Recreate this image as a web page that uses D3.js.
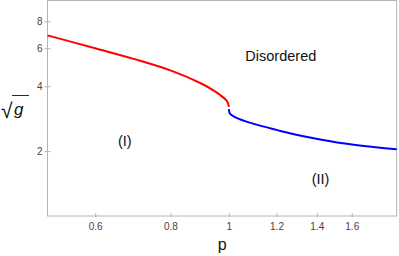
<!DOCTYPE html>
<html>
<head>
<meta charset="utf-8">
<script src="https://cdn.jsdelivr.net/npm/d3@7"></script>
<style>
  body { margin: 0; background: #fff; }
  svg { display: block; font-family: "Liberation Sans", Arial, sans-serif; }
</style>
</head>
<body>
<div class="canvas"></div>
<script>
// phase boundary, ordered phase branch (red)
const redP = [0.5, 0.6, 0.7, 0.8, 0.9, 0.95, 0.97, 0.99, 0.997, 1.0];
const redG = [6.89, 6.0, 5.33, 4.74, 4.12, 3.78, 3.62, 3.45, 3.33, 3.21];

// boundary between (II) and disordered (blue)
const blueP = [1.0, 1.004, 1.017, 1.037, 1.07, 1.119, 1.2, 1.272, 1.39, 1.547, 1.755, 1.9];
const blueG = [3.13, 2.99, 2.91, 2.83, 2.74, 2.64, 2.51, 2.41, 2.29, 2.175, 2.085, 2.04];

const xTicks = [0.6, 0.8, 1, 1.2, 1.4, 1.6];
const yTicks = [2, 4, 6, 8];

const labels = [
  { text: 'Disordered', p: 1.22, g: 5.22 },
  { text: '(I)', p: 0.672, g: 2.11 },
  { text: '(II)', p: 1.42, g: 1.41 }
];

const dims = { width: 399, height: 256 };
const margin = { left: 47.5, top: 0.5, right: 2.3, bottom: 40 };

const svg = d3.select('.canvas').append('svg')
  .attr('width', dims.width)
  .attr('height', dims.height);

const x = d3.scaleLog()
  .domain([0.5, 1.9])
  .range([margin.left, dims.width - margin.right]);

const y = d3.scaleLog()
  .domain([1, 10])
  .range([dims.height - margin.bottom, margin.top]);

const frameCol = '#b4b4b4';

// frame
svg.append('rect')
  .attr('x', x.range()[0])
  .attr('y', y.range()[1])
  .attr('width', x.range()[1] - x.range()[0])
  .attr('height', y.range()[0] - y.range()[1])
  .attr('fill', 'none')
  .attr('stroke', frameCol)
  .attr('stroke-width', 1);

// axes
const xAxis = svg.append('g')
  .attr('transform', `translate(0, ${y.range()[0]})`)
  .call(d3.axisBottom(x).tickValues(xTicks).tickFormat(d3.format('~g')).tickSizeOuter(0).tickSize(3).tickPadding(4));

xAxis.selectAll('.tick line').attr('y1', 1).attr('y2', -3);

const yAxis = svg.append('g')
  .attr('transform', `translate(${x.range()[0]}, 0)`)
  .call(d3.axisLeft(y).tickValues(yTicks).tickFormat(d3.format('d')).tickSizeOuter(0).tickSize(3).tickPadding(2));

yAxis.selectAll('.tick line').attr('x1', 3);

[xAxis, yAxis].forEach(a => {
  a.select('.domain').remove();
  a.selectAll('.tick line').attr('stroke', frameCol);
  a.selectAll('.tick text')
    .attr('fill', '#444')
    .style('font-size', '10px');
});

// curves
const line = d3.line()
  .x(d => x(d[0]))
  .y(d => y(d[1]))
  .curve(d3.curveCatmullRom.alpha(0.5));

svg.append('path')
  .datum(redP.map((p, i) => [p, redG[i]]))
  .attr('d', line)
  .attr('fill', 'none')
  .attr('stroke', '#ff0000')
  .attr('stroke-width', 2);

svg.append('path')
  .datum(blueP.map((p, i) => [p, blueG[i]]))
  .attr('d', line)
  .attr('fill', 'none')
  .attr('stroke', '#0000ff')
  .attr('stroke-width', 2);

// region labels
svg.selectAll('.region')
  .data(labels)
  .enter().append('text')
  .attr('class', 'region')
  .attr('x', d => x(d.p))
  .attr('y', d => y(d.g))
  .attr('text-anchor', 'middle')
  .attr('fill', '#111')
  .style('font-size', '14.5px')
  .text(d => d.text);

// axis titles
svg.append('text')
  .attr('x', (x.range()[0] + x.range()[1]) / 2)
  .attr('y', 250)
  .attr('text-anchor', 'middle')
  .attr('fill', '#111')
  .style('font-size', '16px')
  .text('p');

const yLab = svg.append('g').attr('transform', 'translate(1, 118)');
yLab.append('text')
  .attr('x', 0)
  .attr('y', 0)
  .attr('fill', '#111')
  .style('font-size', '21px')
  .text('√');
yLab.append('text')
  .attr('x', 13)
  .attr('y', -3)
  .attr('fill', '#111')
  .style('font-size', '17px')
  .style('font-style', 'italic')
  .text('g');
yLab.append('line')
  .attr('x1', 11).attr('x2', 28)
  .attr('y1', -22.5).attr('y2', -22.5)
  .attr('stroke', '#111')
  .attr('stroke-width', 0.9);
</script>
</body>
</html>
